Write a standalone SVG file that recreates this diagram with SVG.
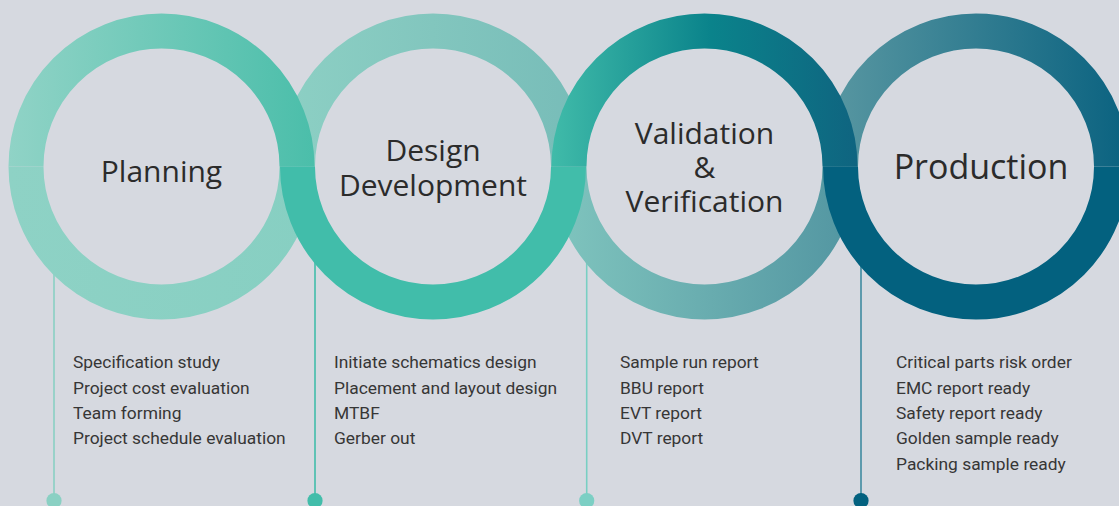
<svg xmlns="http://www.w3.org/2000/svg" width="1119" height="506" viewBox="0 0 1119 506">
<style>
.ring{fill:none;stroke-width:35;stroke-linecap:butt}
.title{font-family:"Open Sans","Noto Sans",sans-serif;font-size:30px;fill:#2b2b2b;text-anchor:middle}
.item{font-family:Roboto,"Liberation Sans",sans-serif;font-size:17.4px;fill:#363636}
.lead{stroke-width:1.6;fill:none}
</style>
<defs>
<linearGradient id="g1t" gradientUnits="userSpaceOnUse" x1="8.5" y1="0" x2="314.5" y2="0"><stop offset="0" stop-color="#90d3c6"/><stop offset="1" stop-color="#4bbeaa"/></linearGradient>
<linearGradient id="g1b" gradientUnits="userSpaceOnUse" x1="8.5" y1="0" x2="314.5" y2="0"><stop offset="0" stop-color="#8ed2c5"/><stop offset="1" stop-color="#87cfc2"/></linearGradient>
<linearGradient id="g2t" gradientUnits="userSpaceOnUse" x1="280" y1="0" x2="586" y2="0"><stop offset="0" stop-color="#8dd0c4"/><stop offset="1" stop-color="#77bcb8"/></linearGradient>
<linearGradient id="g2b" gradientUnits="userSpaceOnUse" x1="280" y1="0" x2="586" y2="0"><stop offset="0" stop-color="#41bdaa"/><stop offset="1" stop-color="#41bdaa"/></linearGradient>
<linearGradient id="g3t" gradientUnits="userSpaceOnUse" x1="551.5" y1="0" x2="857.5" y2="0"><stop offset="0" stop-color="#40bba9"/><stop offset="0.52" stop-color="#0a838b"/><stop offset="1" stop-color="#0f6480"/></linearGradient>
<linearGradient id="g3b" gradientUnits="userSpaceOnUse" x1="551.5" y1="0" x2="857.5" y2="0"><stop offset="0" stop-color="#80c5be"/><stop offset="1" stop-color="#5295a1"/></linearGradient>
<linearGradient id="g4t" gradientUnits="userSpaceOnUse" x1="823" y1="0" x2="1129" y2="0"><stop offset="0" stop-color="#5a98a2"/><stop offset="1" stop-color="#0a6280"/></linearGradient>
<linearGradient id="g4b" gradientUnits="userSpaceOnUse" x1="823" y1="0" x2="1129" y2="0"><stop offset="0" stop-color="#03617f"/><stop offset="1" stop-color="#03617f"/></linearGradient>
</defs>
<rect width="1119" height="506" fill="#d6d9e0"/>
<g id="connectors">
<line class="lead" x1="54" y1="250" x2="54" y2="500" stroke="#8ad0c3"/>
<line class="lead" x1="315" y1="250" x2="315" y2="500" stroke="#42bdaa"/>
<line class="lead" x1="586.7" y1="250" x2="586.7" y2="500" stroke="#78cfc3"/>
<line class="lead" x1="861" y1="250" x2="861" y2="500" stroke="#3f8ba0"/>
<circle cx="54" cy="500.7" r="7.6" fill="#8ad0c3"/>
<circle cx="315" cy="500.7" r="7.6" fill="#42bdaa"/>
<circle cx="586.7" cy="500.7" r="7.6" fill="#7ccfc4"/>
<circle cx="861" cy="500.7" r="7.6" fill="#03617f"/>
</g>
<g id="rings-under">
<path class="ring" stroke="url(#g1b)" d="M297 166.5 A135.5 135.5 0 0 1 26 166.5"/>
<path class="ring" stroke="url(#g2t)" d="M297.5 166.5 A135.5 135.5 0 0 1 568.5 166.5"/>
<path class="ring" stroke="url(#g3b)" d="M840 166.5 A135.5 135.5 0 0 1 569 166.5"/>
<path class="ring" stroke="url(#g4t)" d="M840.5 166.5 A135.5 135.5 0 0 1 1111.5 166.5"/>
</g>
<g id="rings-over">
<path class="ring" stroke="url(#g1t)" d="M26 166.5 A135.5 135.5 0 0 1 297 166.5"/>
<path class="ring" stroke="url(#g2b)" d="M568.5 166.5 A135.5 135.5 0 0 1 297.5 166.5"/>
<path class="ring" stroke="url(#g3t)" d="M569 166.5 A135.5 135.5 0 0 1 840 166.5"/>
<path class="ring" stroke="url(#g4b)" d="M1111.5 166.5 A135.5 135.5 0 0 1 840.5 166.5"/>
</g>
<g id="node-planning">
<text class="title" x="161.5" y="181.7">Planning</text>
<text class="item" x="73" y="368.3">Specification study</text>
<text class="item" x="73" y="393.6">Project cost evaluation</text>
<text class="item" x="73" y="418.9">Team forming</text>
<text class="item" x="73" y="444.2">Project schedule evaluation</text>
</g>
<g id="node-design">
<text class="title" x="433" y="161">Design</text>
<text class="title" x="433" y="196">Development</text>
<text class="item" x="334" y="368.3">Initiate schematics design</text>
<text class="item" x="334" y="393.6">Placement and layout design</text>
<text class="item" x="334" y="418.9">MTBF</text>
<text class="item" x="334" y="444.2">Gerber out</text>
</g>
<g id="node-validation">
<text class="title" x="704.5" y="144">Validation</text>
<text class="title" x="704.5" y="178.3">&amp;</text>
<text class="title" x="704.5" y="212.3">Verification</text>
<text class="item" x="620" y="368.3">Sample run report</text>
<text class="item" x="620" y="393.6">BBU report</text>
<text class="item" x="620" y="418.9">EVT report</text>
<text class="item" x="620" y="444.2">DVT report</text>
</g>
<g id="node-production">
<text class="title" x="981" y="179" style="font-size:34px">Production</text>
<text class="item" x="896" y="368.3">Critical parts risk order</text>
<text class="item" x="896" y="393.6">EMC report ready</text>
<text class="item" x="896" y="418.9">Safety report ready</text>
<text class="item" x="896" y="444.2">Golden sample ready</text>
<text class="item" x="896" y="469.5">Packing sample ready</text>
</g>
</svg>
